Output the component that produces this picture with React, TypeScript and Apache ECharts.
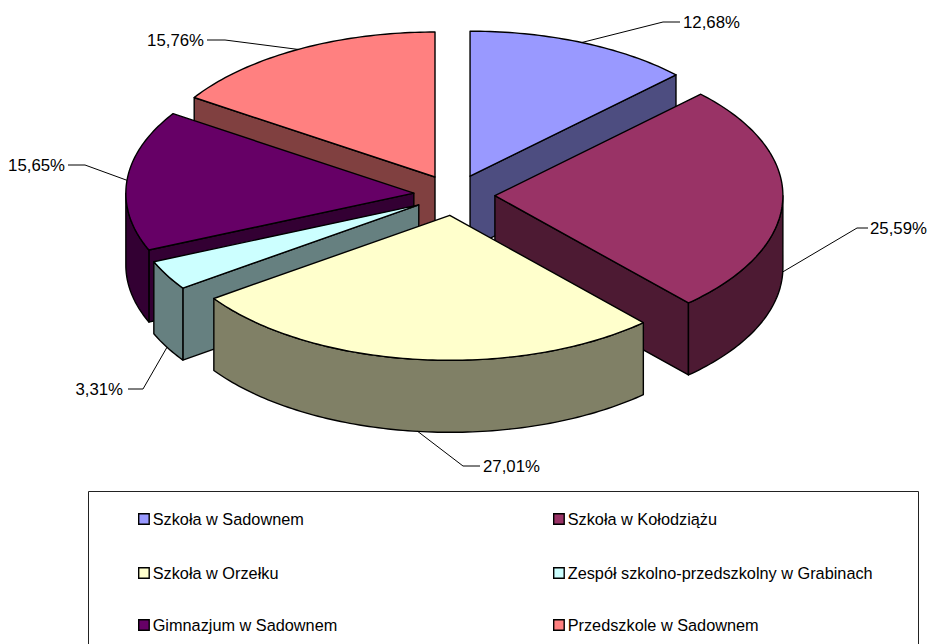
import React, { useEffect, useRef } from "react";
import * as echarts from "echarts";

const categories = [
  "Szkoła w Sadownem",
  "Szkoła w Kołodziążu",
  "Szkoła w Orzełku",
  "Zespół szkolno-przedszkolny w Grabinach",
  "Gimnazjum w Sadownem",
  "Przedszkole w Sadownem",
];
const shares = [12.68, 25.59, 27.01, 3.31, 15.65, 15.76];
const topColors = ["#9999FF", "#993366", "#FFFFCC", "#CCFFFF", "#660066", "#FF8080"];
const wallColors = ["#4D4D80", "#4D1A33", "#808066", "#668080", "#330033", "#804040"];

// Painter's order of the slices, back to front.
const drawOrder = [5, 0, 4, 1, 3, 2];

// Leader-line elbows and label placement, per slice.
const elbowX = [663, 857, 463, 143, 85, 225];
const elbowY = [22, 228, 466, 389, 165, 40];
const stubX = [680, 868, 480, 128, 68, 207];
const labelX = [683, 870, 483, 123, 65, 204];
const labelAlign = ["left", "left", "left", "right", "right", "right"];

// Pie projection.
const CX = 454.3;
const CY = 195;
const RX = 288;
const RY = 145;
const DEPTH = 72;
const EXPLODE = 0.141;
const FONT = "Liberation Sans, Arial, sans-serif";
const LABEL_FONT_SIZE = 16.8;
const LEGEND_FONT_SIZE = 16.3;

// Legend layout.
const legendColX = [138, 553];
const legendRowY = [519, 573, 625];

const rad = (d: number) => (d * Math.PI) / 180;
const total = shares.reduce((s, v) => s + v, 0);
const startAngles = shares.map((_, i) =>
  (shares.slice(0, i).reduce((s, v) => s + v, 0) / total) * 360
);

function sliceShapes(i: number) {
  const a0 = startAngles[i];
  const a1 = a0 + (shares[i] / total) * 360;
  const mid = (a0 + a1) / 2;
  const ox = CX + RX * EXPLODE * Math.sin(rad(mid));
  const oy = CY - RY * EXPLODE * Math.cos(rad(mid));
  const pt = (deg: number, dz = 0): [number, number] => [
    ox + RX * Math.sin(rad(deg)),
    oy - RY * Math.cos(rad(deg)) + dz,
  ];
  const arc = (from: number, to: number, dz = 0) => {
    const n = Math.max(2, Math.ceil(Math.abs(to - from)));
    const out: [number, number][] = [];
    for (let k = 0; k <= n; k++) out.push(pt(from + ((to - from) * k) / n, dz));
    return out;
  };
  const stroke = { stroke: "#000", lineWidth: 1.4, lineJoin: "round" };
  const wallStyle = { fill: wallColors[i], ...stroke };
  const children: any[] = [];
  const radialWall = (deg: number) => {
    const p = pt(deg);
    const q: [number, number] = [p[0], p[1] + DEPTH];
    children.push({
      type: "polygon",
      shape: { points: [[ox, oy], p, q, [ox, oy + DEPTH]] },
      style: wallStyle,
    });
  };
  if (Math.sin(rad(a0)) < -1e-6) radialWall(a0);
  if (Math.sin(rad(a1)) > 1e-6) radialWall(a1);
  const w0 = Math.max(a0, 90);
  const w1 = Math.min(a1, 270);
  if (w1 > w0) {
    const upper = arc(w0, w1);
    const lower = arc(w1, w0, DEPTH);
    children.push({
      type: "polygon",
      shape: { points: [...upper, ...lower] },
      style: wallStyle,
    });
  }
  children.push({
    type: "polygon",
    shape: { points: [[ox, oy], ...arc(a0, a1)] },
    style: { fill: topColors[i], ...stroke },
  });

  // Leader line and percentage label.
  const anchor = pt(mid, Math.cos(rad(mid)) < 0 ? DEPTH : 0);
  children.push({
    type: "polyline",
    shape: { points: [anchor, [elbowX[i], elbowY[i]], [stubX[i], elbowY[i]]] },
    style: { fill: "none", stroke: "#000", lineWidth: 1 },
  });
  children.push({
    type: "text",
    style: {
      text: shares[i].toFixed(2).replace(".", ",") + "%",
      x: labelX[i],
      y: elbowY[i],
      textAlign: labelAlign[i],
      textVerticalAlign: "middle",
      fontFamily: FONT,
      fontSize: LABEL_FONT_SIZE,
      fill: "#000",
    },
  });
  return { type: "group", children };
}

export default function App() {
  const ref = useRef<HTMLDivElement>(null);
  useEffect(() => {
    document.body.style.margin = "0";
    const chart = echarts.init(ref.current!, undefined, { renderer: "svg" });
    chart.setOption({
      animation: false,
      backgroundColor: "#fff",
      legend: categories.map((name, i) => ({
        show: true,
        selectedMode: false,
        orient: "horizontal",
        padding: 0,
        left: legendColX[i % 2],
        top: legendRowY[Math.floor(i / 2)] - 8,
        itemWidth: 10.5,
        itemHeight: 10.5,
        itemGap: 0,
        textStyle: { fontFamily: FONT, fontSize: LEGEND_FONT_SIZE, color: "#000", padding: [0, 0, 0, -1.5] },
        data: [
          {
            name,
            icon: "rect",
            itemStyle: { color: topColors[i], borderColor: "#000", borderWidth: 1.4 },
          },
        ],
      })),
      graphic: [
        {
          type: "rect",
          silent: true,
          z: -1,
          shape: { x: 88.5, y: 491.5, width: 830, height: 170 },
          style: { fill: "#fff", stroke: "#222", lineWidth: 1 },
        },
      ],
      series: drawOrder.map((i) => ({
        type: "custom",
        name: categories[i],
        coordinateSystem: "none",
        silent: true,
        clip: false,
        itemStyle: { color: topColors[i] },
        data: [[shares[i]]],
        renderItem: () => sliceShapes(i),
      })),
    });
    return () => chart.dispose();
  }, []);
  return <div ref={ref} style={{ width: 929, height: 644, overflow: "hidden" }} />;
}
